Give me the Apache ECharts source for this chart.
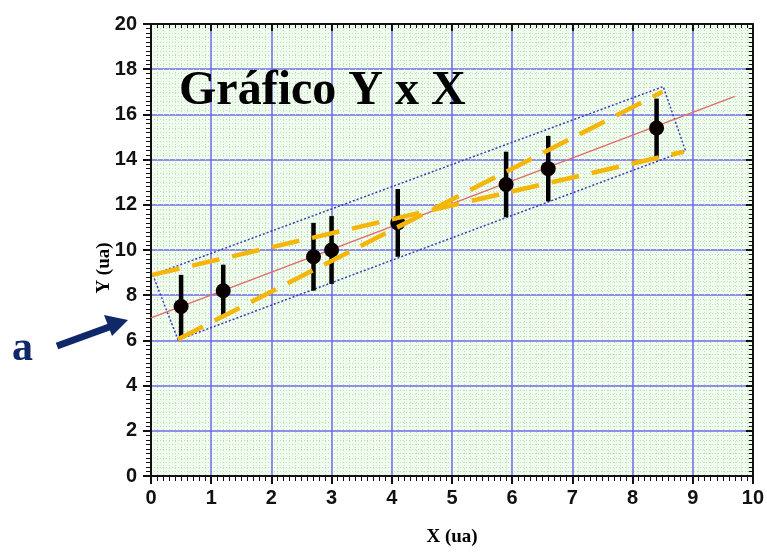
<!DOCTYPE html>
<html>
<head>
<meta charset="utf-8">
<script src="https://cdn.jsdelivr.net/npm/echarts@6/dist/echarts.min.js"></script>
<style>
html,body{margin:0;padding:0;background:#fff;}
#chart{width:767px;height:554px;}
</style>
</head>
<body>
<div id="chart"></div>
<script>
// ---- data ----
var xTicks = [0,1,2,3,4,5,6,7,8,9,10];
var yTicks = [0,2,4,6,8,10,12,14,16,18,20];
var xVals = [0.5, 1.2, 2.7, 3.0, 4.1, 5.9, 6.6, 8.4];
var yVals = [7.5, 8.2, 9.7, 10.0, 11.2, 12.9, 13.6, 15.4];
var yErr  = [1.4, 1.15, 1.5, 1.5, 1.5, 1.45, 1.45, 1.3];
var fitLine = [[0, 7.0], [9.7, 16.8]];
var diagSteep = [[0.45, 6.05], [8.5, 17.0]];
var diagShallow = [[0.02, 8.9], [8.85, 14.35]];
var bandBox = [[0.03, 8.9], [0.45, 6.02], [8.88, 14.39], [8.51, 17.23], [0.03, 8.9]];
var titleText = 'Gráfico Y x X';
var xName = 'X (ua)';
var yName = 'Y (ua)';
var sideLabel = 'a';

var points = xVals.map(function (x, i) { return [x, yVals[i]]; });
var errData = xVals.map(function (x, i) { return [x, yVals[i] - yErr[i], yVals[i] + yErr[i]]; });

var chart = echarts.init(document.getElementById('chart'), null, {renderer: 'canvas'});
var labelFont = {color: '#111', fontFamily: 'Liberation Sans, Arial, sans-serif', fontWeight: 'bold', fontSize: 20};
var majorGrid = {show: true, lineStyle: {color: '#6b6bea', width: 1.5}};
var minorGrid = {show: true, lineStyle: {color: '#b4e6ae', width: 1, type: [1, 2]}};

chart.setOption({
  animation: false,
  backgroundColor: '#ffffff',
  grid: {left: 151, right: 13, top: 24, bottom: 78, show: true, backgroundColor: '#f1fbef', borderWidth: 0},
  xAxis: [{
    type: 'value', min: 0, max: 10, interval: 1, position: 'bottom',
    axisLine: {show: true, onZero: false, lineStyle: {color: '#111', width: 2}},
    axisTick: {show: true, length: 8, lineStyle: {color: '#111', width: 2}},
    minorTick: {show: true, splitNumber: 10, length: 5, lineStyle: {color: '#111', width: 1}},
    splitLine: majorGrid,
    minorSplitLine: minorGrid,
    axisLabel: Object.assign({margin: 12, formatter: function (v) { return xTicks.indexOf(v) >= 0 ? String(v) : ''; }}, labelFont)
  }, {
    type: 'value', min: 0, max: 10, interval: 1, position: 'top',
    axisLine: {show: true, onZero: false, lineStyle: {color: '#111', width: 2}},
    axisTick: {show: true, inside: true, length: 7, lineStyle: {color: '#111', width: 2}},
    minorTick: {show: true, splitNumber: 10, length: 4, lineStyle: {color: '#111', width: 1}},
    splitLine: {show: false}, axisLabel: {show: false}
  }],
  yAxis: [{
    type: 'value', min: 0, max: 20, interval: 2, position: 'left',
    axisLine: {show: true, onZero: false, lineStyle: {color: '#111', width: 2}},
    axisTick: {show: true, length: 8, lineStyle: {color: '#111', width: 2}},
    minorTick: {show: true, splitNumber: 10, length: 5, lineStyle: {color: '#111', width: 1}},
    splitLine: majorGrid,
    minorSplitLine: minorGrid,
    axisLabel: Object.assign({margin: 14, formatter: function (v) { return yTicks.indexOf(v) >= 0 ? String(v) : ''; }}, labelFont)
  }, {
    type: 'value', min: 0, max: 20, interval: 2, position: 'right',
    axisLine: {show: true, onZero: false, lineStyle: {color: '#111', width: 2}},
    axisTick: {show: true, inside: true, length: 7, lineStyle: {color: '#111', width: 2}},
    minorTick: {show: true, splitNumber: 10, length: 4, lineStyle: {color: '#111', width: 1}},
    splitLine: {show: false}, axisLabel: {show: false}
  }],
  series: [
    {
      type: 'line', data: bandBox, showSymbol: false, symbol: 'none', z: 3,
      lineStyle: {color: '#3c3cc0', width: 1.5, type: [2, 2]}
    },
    {
      type: 'line', data: fitLine, showSymbol: false, symbol: 'none', z: 4,
      lineStyle: {color: '#e36a6a', width: 1.3}
    },
    {
      type: 'custom', z: 5,
      renderItem: function (params, api) {
        var p1 = api.coord([api.value(0), api.value(1)]);
        var p2 = api.coord([api.value(0), api.value(2)]);
        return {type: 'line', shape: {x1: p1[0], y1: p1[1], x2: p2[0], y2: p2[1]},
                style: {stroke: '#000', lineWidth: 4.5}};
      },
      encode: {x: 0, y: [1, 2]},
      data: errData
    },
    {
      type: 'scatter', data: points, symbol: 'circle', symbolSize: 15, z: 6,
      itemStyle: {color: '#0a0000', opacity: 1, borderWidth: 0}
    },
    {
      type: 'line', data: diagSteep, showSymbol: false, symbol: 'none', z: 7,
      lineStyle: {color: '#f5b60a', width: 4.5, type: [28, 13], cap: 'butt'}
    },
    {
      type: 'line', data: diagShallow, showSymbol: false, symbol: 'none', z: 7,
      lineStyle: {color: '#f5b60a', width: 4.5, type: [28, 13], cap: 'butt'}
    }
  ],
  graphic: [
    {type: 'text', left: 179, top: 68, z: 100,
     style: {text: titleText, fill: '#000', font: 'bold 48px "Liberation Serif", "Times New Roman", serif'}},
    {type: 'text', x: 452, y: 537, z: 100,
     style: {text: xName, fill: '#000', align: 'center', verticalAlign: 'middle', font: 'bold 19px "Liberation Serif", "Times New Roman", serif'}},
    {type: 'text', x: 104, y: 268, rotation: Math.PI / 2, z: 100,
     style: {text: yName, fill: '#000', align: 'center', verticalAlign: 'middle', font: 'bold 19px "Liberation Serif", "Times New Roman", serif'}},
    {type: 'text', left: 12, top: 328, z: 100,
     style: {text: sideLabel, fill: '#10286a', font: 'bold 42px "Liberation Serif", "Times New Roman", serif'}},
    {type: 'line', z: 100, shape: {x1: 57, y1: 346, x2: 112, y2: 326},
     style: {stroke: '#10286a', lineWidth: 7}},
    {type: 'polygon', z: 100, shape: {points: [[128, 320], [104, 315], [112, 336]]},
     style: {fill: '#10286a'}}
  ]
});
</script>
</body>
</html>
